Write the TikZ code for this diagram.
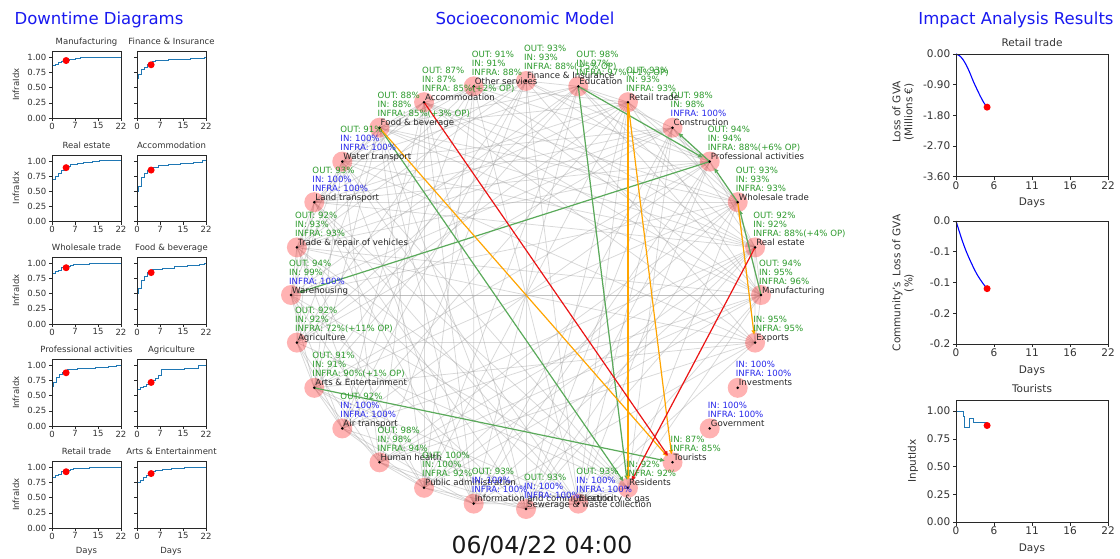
\documentclass[tikz,border=0pt]{standalone}
\usepackage{fontspec}
\setmainfont{DejaVu Sans}
\usetikzlibrary{arrows.meta}
\definecolor{sgreen}{RGB}{45,155,45}
\definecolor{sblue}{RGB}{40,40,235}
\definecolor{cnull}{RGB}{31,119,180}
\definecolor{axgray}{RGB}{40,40,40}
\definecolor{eorange}{RGB}{255,165,0}
\definecolor{egreen}{RGB}{90,170,90}
\definecolor{ered}{RGB}{235,20,20}
\definecolor{ttlblue}{RGB}{25,25,240}
\newcommand\G[1]{\textcolor{sgreen}{#1}}
\newcommand\B[1]{\textcolor{sblue}{#1}}
\tikzset{
  lbl/.style={font=\fontsize{8.6}{9}\selectfont, inner sep=0pt, anchor=base west, text=black!85},
  bigtitle/.style={font=\fontsize{16.5}{18}\selectfont, text=ttlblue, anchor=base, inner sep=0pt},
  timefont/.style={font=\fontsize{23.5}{25}\selectfont, text=black!90, anchor=base, inner sep=0pt},
  tick/.style={font=\fontsize{8.5}{9.5}\selectfont, text=black!80, inner sep=0pt},
  rtick/.style={font=\fontsize{10.5}{12}\selectfont, text=black!80, inner sep=0pt},
  axis/.style={draw=axgray, line width=0.6pt},
  cline/.style={draw=cnull, line width=1pt},
  bline/.style={draw=blue, line width=1.1pt},
  grayedge/.style={draw=gray!80, opacity=0.38, line width=0.75pt},
  cedge/.style={line width=1.2pt, -{Triangle[length=4.5pt,width=4pt]}, shorten >=8pt},
  nodecirc/.style={fill=red, fill opacity=0.3},
}
% small downtime plot: #1 x left, #2 y bottom, #3 title, #4 step path, #5 dot value, #6 y labels
\newcommand\dplot[6]{%
\begin{scope}[shift={(#1pt,-#2pt)},x=3.1364pt,y=60.5pt]
  \draw[cline] #4;
  \fill[red] (4.5,#5) circle (3.5pt);
  \draw[axis] (0,0) rectangle (22,1.1);
  \foreach \t/\lb in {0/0,7.333/7,14.667/15,22/22}{%
    \draw[axis] (\t,0) -- ++(0,-3pt);
    \node[tick,anchor=north] at ([yshift=-4.5pt]\t,0) {\lb};}
  \foreach \v/\lb in {0/0.00,0.25/0.25,0.5/0.50,0.75/0.75,1/1.00}{%
    \draw[axis] (0,\v) -- ++(-3pt,0);
    \ifnum#6=1 \node[tick,anchor=east] at ([xshift=-5.5pt]0,\v) {\lb};\fi}
  \ifnum#6=1 \node[tick,rotate=90] at ([xshift=-36pt]0,0.55) {InfraIdx};\fi
  \node[tick,anchor=base] at ([yshift=6.5pt]11,1.1) {#3};
\end{scope}}
% network labels: #1 index, #2 name, #3 OUT, #4 IN, #5 INFRA
\newcommand\netlab[5]{%
  \node[lbl] (l#1) at ([shift={(1,-2)}]n#1) {#2};
  \node[lbl] (f#1) at ([shift={(-2,-11)}]n#1) {#5};
  \node[lbl] (i#1) at ([shift={(-2,-20)}]n#1) {#4};
  \node[lbl] (o#1) at ([shift={(-2,-29)}]n#1) {#3};
}
\begin{document}
\begin{tikzpicture}[x=1pt,y=-1pt]
\useasboundingbox[fill=white] (0,0) rectangle (1120,559);

% ---------- titles ----------
\node[bigtitle] (t1) at (99,24.5) {Downtime Diagrams};
\node[bigtitle] (t2) at (525,24.5) {Socioeconomic Model};
\node[bigtitle] (t3) at (1016,24.5) {Impact Analysis Results};
\node[timefont] (tm) at (542,553) {06/04/22 04:00};

% ---------- downtime diagrams ----------
\dplot{52}{118}{Manufacturing}{(0,0.87) -| (1,0.89) -| (2,0.91) -| (3,0.93) -| (4,0.95) -| (5.5,0.96) -| (6.5,0.97) -| (7.5,0.99) -| (9,1.0) -- (22,1.0)}{0.95}{1}
\dplot{137}{118}{Finance \& Insurance}{(0,0.65) -| (0.5,0.72) -| (1.5,0.8) -| (2.5,0.84) -| (3.5,0.88) -| (4.8,0.93) -| (6,0.95) -| (10,0.96) -| (14,0.97) -| (17,0.98) -| (20,0.99) -| (21.5,1.0) -- (22,1.0)}{0.88}{0}
\dplot{52}{221.5}{Real estate}{(0,0.7) -| (1,0.74) -| (2,0.8) -| (3,0.85) -| (4,0.89) -| (5,0.91) -| (6,0.94) -| (8,0.96) -| (10,0.98) -| (13,0.99) -| (15,1.0) -- (22,1.0)}{0.89}{1}
\dplot{137}{221.5}{Accommodation}{(0,0.5) -| (0.5,0.58) -| (1.5,0.72) -| (2.5,0.79) -| (3.5,0.85) -| (5,0.9) -| (7,0.92) -| (10,0.94) -| (14,0.96) -| (18,0.98) -| (21,1.0) -- (22,1.0)}{0.85}{0}
\dplot{52}{324}{Wholesale trade}{(0,0.83) -| (1,0.86) -| (2,0.89) -| (3,0.93) -| (5,0.95) -| (6,0.97) -| (7,0.99) -| (12,1.0) -- (22,1.0)}{0.93}{1}
\dplot{137}{324}{Food \& beverage}{(0,0.5) -| (0.5,0.58) -| (1.5,0.72) -| (2.5,0.78) -| (3.5,0.85) -| (5,0.9) -| (8,0.92) -| (12,0.95) -| (16,0.97) -| (20,0.99) -| (21.5,1.0) -- (22,1.0)}{0.85}{0}
\dplot{52}{426}{Professional activities}{(0,0.66) -| (0.5,0.72) -| (1.5,0.8) -| (2.5,0.85) -| (3.5,0.88) -| (5,0.94) -| (8,0.95) -| (14,0.97) -| (18,0.98) -| (20.5,1.0) -- (22,1.0)}{0.88}{1}
\dplot{137}{426}{Agriculture}{(0,0.61) -| (1,0.63) -| (2,0.66) -| (3,0.69) -| (4,0.72) -| (5,0.75) -| (6,0.79) -| (7,0.83) -| (7.7,0.94) -| (15,0.95) -| (19.7,1.0) -- (22,1.0)}{0.72}{0}
\dplot{52}{528}{Retail trade}{(0,0.83) -| (1,0.86) -| (2,0.89) -| (3,0.93) -| (5,0.95) -| (6,0.97) -| (7,0.99) -| (12,1.0) -- (22,1.0)}{0.93}{1}
\dplot{137}{528}{Arts \& Entertainment}{(0,0.76) -| (1,0.79) -| (2,0.84) -| (3,0.87) -| (4,0.9) -| (5,0.93) -| (6,0.95) -| (8,0.97) -| (11,0.99) -| (15,1.0) -- (22,1.0)}{0.9}{0}
\node[tick] (d1) at (86.5,551) {Days};
\node[tick] (d2) at (171,551) {Days};

% ---------- impact analysis ----------
\begin{scope}[shift={(956pt,-54pt)},x=6.909pt,y=34.08pt]
  \draw[bline] plot[smooth] coordinates {(0,0) (0.5,-0.05) (1,-0.16) (1.5,-0.33) (2,-0.55) (2.5,-0.8) (3,-1.02) (3.5,-1.23) (4,-1.42) (4.5,-1.56)};
  \fill[red] (4.5,-1.56) circle (3.5pt);
  \draw[axis] (0,0) rectangle (22,-3.6);
  \foreach \t/\lb in {0/0,5.5/6,11/11,16.5/16,22/22}{%
    \draw[axis] (\t,-3.6) -- ++(0,-3.5pt);
    \node[rtick,anchor=north] at ([yshift=-5pt]\t,-3.6) {\lb};}
  \foreach \v/\lb in {0/0.00,-0.9/-0.90,-1.8/-1.80,-2.7/-2.70,-3.6/-3.60}{%
    \draw[axis] (0,\v) -- ++(-3.5pt,0);
    \node[rtick,anchor=east] at ([xshift=-5.5pt]0,\v) {\lb};}
  \node[rtick,anchor=base] (r1t) at ([yshift=7.5pt]11,0) {Retail trade};
  \node[rtick] (r1d) at ([yshift=-26.5pt]11,-3.6) {Days};
\end{scope}
\node[rtick,rotate=90,align=center] (r1y) at (903,112) {Loss of GVA\\(Millions €)};

\begin{scope}[shift={(956pt,-221pt)},x=6.909pt,y=615pt]
  \draw[bline] plot[smooth] coordinates {(0,0) (0.5,-0.018) (1,-0.035) (1.5,-0.05) (2,-0.063) (2.5,-0.075) (3,-0.086) (3.5,-0.095) (4,-0.103) (4.5,-0.11)};
  \fill[red] (4.5,-0.11) circle (3.5pt);
  \draw[axis] (0,0) rectangle (22,-0.2);
  \foreach \t/\lb in {0/0,5.5/6,11/11,16.5/16,22/22}{%
    \draw[axis] (\t,-0.2) -- ++(0,-3.5pt);
    \node[rtick,anchor=north] at ([yshift=-5pt]\t,-0.2) {\lb};}
  \foreach \v/\lb in {0/0.0,-0.05/-0.1,-0.1/-0.1,-0.15/-0.2,-0.2/-0.2}{%
    \draw[axis] (0,\v) -- ++(-3.5pt,0);
    \node[rtick,anchor=east] at ([xshift=-5.5pt]0,\v) {\lb};}
  \node[rtick] (r2d) at ([yshift=-27pt]11,-0.2) {Days};
\end{scope}
\node[rtick,rotate=90,align=center] (r2y) at (903,283) {Community's\enspace Loss of GVA\\(\%)};

\begin{scope}[shift={(956pt,-522pt)},x=6.909pt,y=110.9pt]
  \draw[cline] (0,1) -| (1.06,0.95) -| (1.3,0.855) -| (2.0,0.935) -| (2.5,0.9) -- (4.5,0.9);
  \fill[red] (4.5,0.87) circle (3.5pt);
  \draw[axis] (0,0) rectangle (22,1.1);
  \foreach \t/\lb in {0/0,5.5/6,11/11,16.5/16,22/22}{%
    \draw[axis] (\t,0) -- ++(0,-3.5pt);
    \node[rtick,anchor=north] at ([yshift=-5pt]\t,0) {\lb};}
  \foreach \v/\lb in {0/0.00,0.25/0.25,0.5/0.50,0.75/0.75,1/1.00}{%
    \draw[axis] (0,\v) -- ++(-3.5pt,0);
    \node[rtick,anchor=east] at ([xshift=-5.5pt]0,\v) {\lb};}
  \node[rtick,anchor=base] (r3t) at ([yshift=8pt]11,1.1) {Tourists};
  \node[rtick] (r3d) at ([yshift=-27pt]11,0) {Days};
\end{scope}
\node[rtick,rotate=90] (r3y) at (913,461) {InputIdx};

% ---------- socioeconomic network ----------
\foreach \k in {0,...,27}{
  \coordinate (n\k) at ({526+235*cos(90+\k*360/28)},{295-214*sin(90+\k*360/28)});
}
% background dependencies (pseudo-random selection)
\foreach \i in {0,...,26}{
  \pgfmathtruncatemacro\s{\i+1}
  \foreach \j in {\s,...,27}{
    \pgfmathtruncatemacro\ok{and(mod(\i*7+\j*11+\i*\j*3,9)<5,and(or(\i<17,\i>19),or(\j<17,\j>19)))}
    \ifnum\ok=1 \draw[grayedge] (n\i) -- (n\j);\fi
  }
}
\draw[grayedge] (n7) -- (n21);
% node circles
\foreach \k in {0,...,27}{
  \fill[nodecirc] (n\k) circle (10pt);
}
% highlighted dependencies
\draw[cedge,egreen] (n3) -- (n16);
\draw[cedge,egreen] (n27) -- (n16);
\draw[cedge,egreen] (n24) -- (n7);
\draw[cedge,egreen] (n9) -- (n17);
\draw[cedge,egreen] (n27) -- (n24);
\draw[cedge,egreen] (n24) -- (n25);
\draw[cedge,egreen] (n23) -- (n24);
\draw[cedge,egreen] (n21) -- (n23);
\draw[cedge,eorange] (n3) -- (n17);
\draw[cedge,eorange] (n26) -- (n16);
\draw[cedge,eorange] (n26) -- (n17);
\draw[cedge,eorange] (n23) -- (n20);
\draw[cedge,ered] (n2) -- (n17);
\draw[cedge,ered] (n22) -- (n16);
% node dots
\foreach \k in {0,...,27}{
  \fill[black] (n\k) circle (1.4pt);
}
% labels
\netlab{0}{Finance \& Insurance}{\G{OUT: 93\%}}{\G{IN: 93\%}}{\G{INFRA: 88\%(+5\% OP)}}
\netlab{1}{Other services}{\G{OUT: 91\%}}{\G{IN: 91\%}}{\G{INFRA: 88\%}}
\netlab{2}{Accommodation}{\G{OUT: 87\%}}{\G{IN: 87\%}}{\G{INFRA: 85\%(+2\% OP)}}
\netlab{3}{Food \& beverage}{\G{OUT: 88\%}}{\G{IN: 88\%}}{\G{INFRA: 85\%(+3\% OP)}}
\netlab{4}{Water transport}{\G{OUT: 91\%}}{\B{IN: 100\%}}{\B{INFRA: 100\%}}
\netlab{5}{Land transport}{\G{OUT: 93\%}}{\B{IN: 100\%}}{\B{INFRA: 100\%}}
\netlab{6}{Trade \& repair of vehicles}{\G{OUT: 92\%}}{\G{IN: 93\%}}{\G{INFRA: 93\%}}
\netlab{7}{Warehousing}{\G{OUT: 94\%}}{\G{IN: 99\%}}{\B{INFRA: 100\%}}
\netlab{8}{Agriculture}{\G{OUT: 92\%}}{\G{IN: 92\%}}{\G{INFRA: 72\%(+11\% OP)}}
\netlab{9}{Arts \& Entertainment}{\G{OUT: 91\%}}{\G{IN: 91\%}}{\G{INFRA: 90\%(+1\% OP)}}
\netlab{10}{Air transport}{\G{OUT: 92\%}}{\B{IN: 100\%}}{\B{INFRA: 100\%}}
\netlab{11}{Human health}{\G{OUT: 98\%}}{\G{IN: 98\%}}{\G{INFRA: 94\%}}
\netlab{12}{Public administration}{\G{OUT: 100\%}}{\G{IN: 100\%}}{\G{INFRA: 92\%}}
\netlab{13}{Information and communication}{\G{OUT: 93\%}}{\B{IN: 100\%}}{\B{INFRA: 100\%}}
\netlab{14}{Sewerage \& waste collection}{\G{OUT: 93\%}}{\B{IN: 100\%}}{\B{INFRA: 100\%}}
\netlab{15}{Electricity \& gas}{\G{OUT: 93\%}}{\B{IN: 100\%}}{\B{INFRA: 100\%}}
\netlab{16}{Residents}{}{\G{IN: 92\%}}{\G{INFRA: 92\%}}
\netlab{17}{Tourists}{}{\G{IN: 87\%}}{\G{INFRA: 85\%}}
\netlab{18}{Government}{}{\B{IN: 100\%}}{\B{INFRA: 100\%}}
\netlab{19}{Investments}{}{\B{IN: 100\%}}{\B{INFRA: 100\%}}
\netlab{20}{Exports}{}{\G{IN: 95\%}}{\G{INFRA: 95\%}}
\netlab{21}{Manufacturing}{\G{OUT: 94\%}}{\G{IN: 95\%}}{\G{INFRA: 96\%}}
\netlab{22}{Real estate}{\G{OUT: 92\%}}{\G{IN: 92\%}}{\G{INFRA: 88\%(+4\% OP)}}
\netlab{23}{Wholesale trade}{\G{OUT: 93\%}}{\G{IN: 93\%}}{\G{INFRA: 93\%}}
\netlab{24}{Professional activities}{\G{OUT: 94\%}}{\G{IN: 94\%}}{\G{INFRA: 88\%(+6\% OP)}}
\netlab{25}{Construction}{\G{OUT: 98\%}}{\G{IN: 98\%}}{\B{INFRA: 100\%}}
\netlab{26}{Retail trade}{\G{OUT: 93\%}}{\G{IN: 93\%}}{\G{INFRA: 93\%}}
\netlab{27}{Education}{\G{OUT: 98\%}}{\G{IN: 97\%}}{\G{INFRA: 97\%(+1\% OP)}}
\end{tikzpicture}
\end{document}
